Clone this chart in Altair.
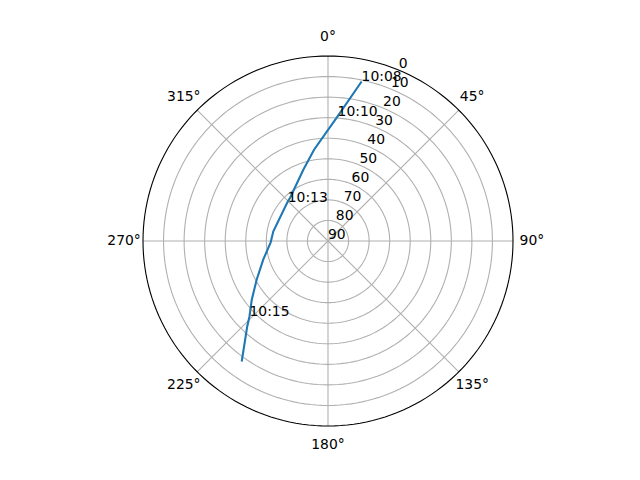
import altair as alt
import pandas as pd

# Satellite pass (azimuth degrees, elevation degrees)
AZ = [11.9, 4.4, 351.3, 340.9, 318.5, 314.4, 280.0, 268.7, 253.9, 241.5, 232.4, 226.2, 223.4, 215.6]
EL = [10.7, 29.2, 45.1, 53.3, 62.1, 62.6, 63.0, 62.1, 57.2, 50.5, 43.2, 37.1, 32.8, 17.9]

TIME_LABELS = ["10:08", "10:10", "10:13", "10:15"]
TIME_AZ = [11.9, 4.4, 314.4, 226.2]
TIME_EL = [10.7, 29.2, 62.6, 37.1]

GRID_EL = [10, 20, 30, 40, 50, 60, 70, 80]
SPINE_EL = [0]
SPOKES = [0, 45, 90, 135, 180, 225, 270, 315]
ANGLE_TEXT = ["0°", "45°", "90°", "135°", "180°", "225°", "270°", "315°"]
RTICKS = [0, 10, 20, 30, 40, 50, 60, 70, 80, 90]
RLABEL_AZ = 22.5
ANGLE_LABEL_R = 99.2
THETA = list(range(0, 361, 2))

FONT = "DejaVu Sans"
FS = 13.9

sx = alt.Scale(domain=[-90, 90], nice=False, zero=False)
sy = alt.Scale(domain=[-90, 90], nice=False, zero=False)


def polar(ch, az="az", r="r", out=("x", "y")):
    return ch.transform_calculate(
        **{out[0]: f"datum.{r} * sin(datum.{az} * PI / 180)",
           out[1]: f"datum.{r} * cos(datum.{az} * PI / 180)"}
    )


def xy(xf="x", yf="y"):
    return dict(x=alt.X(f"{xf}:Q", scale=sx, axis=None),
                y=alt.Y(f"{yf}:Q", scale=sy, axis=None))


def rings_df(els):
    return pd.DataFrame([{"el": e, "az": t} for e in els for t in THETA])


grid = polar(
    alt.Chart(rings_df(GRID_EL)).transform_calculate(r="90 - datum.el")
).mark_line(color="#b0b0b0", strokeWidth=1.1).encode(
    **xy(), detail="el:N", order="az:Q"
)

spokes = polar(
    alt.Chart(pd.DataFrame({"az": SPOKES})).transform_calculate(r="90", r0="0"),
    out=("x2", "y2"),
).transform_calculate(x1="0", y1="0").mark_rule(color="#b0b0b0", strokeWidth=1.1).encode(
    x=alt.X("x1:Q", scale=sx, axis=None),
    y=alt.Y("y1:Q", scale=sy, axis=None),
    x2="x2:Q",
    y2="y2:Q",
)

spine = polar(
    alt.Chart(rings_df(SPINE_EL)).transform_calculate(r="90 - datum.el")
).mark_line(color="black", strokeWidth=1.1).encode(
    **xy(), detail="el:N", order="az:Q"
)

track_df = pd.DataFrame({"az": AZ, "el": EL, "i": list(range(len(AZ)))})
track = polar(
    alt.Chart(track_df).transform_calculate(r="90 - datum.el")
).mark_line(color="#1f77b4", strokeWidth=2.1).encode(
    **xy(), order="i:Q"
)

rl_df = pd.DataFrame({"el": RTICKS, "az": [RLABEL_AZ] * len(RTICKS)})
rlabels = polar(
    alt.Chart(rl_df).transform_calculate(r="90 - datum.el")
).mark_text(font=FONT, fontSize=FS, align="left", baseline="alphabetic",
            dx=0, dy=-2, color="black").encode(**xy(), text="el:Q")

al_df = pd.DataFrame({"az": SPOKES, "t": ANGLE_TEXT})
alabels = polar(
    alt.Chart(al_df).transform_calculate(r=str(ANGLE_LABEL_R))
).mark_text(font=FONT, fontSize=FS, align="center", baseline="middle",
            color="black").encode(**xy(), text="t:N")

tl_df = pd.DataFrame({"az": TIME_AZ, "el": TIME_EL, "t": TIME_LABELS})
tlabels = polar(
    alt.Chart(tl_df).transform_calculate(r="90 - datum.el")
).mark_text(font=FONT, fontSize=FS, align="left", baseline="alphabetic",
            color="black").encode(**xy(), text="t:N")

chart = alt.layer(grid, spokes, spine, track, rlabels, alabels, tlabels).properties(
    width=370,
    height=370,
    autosize=alt.AutoSizeParams(type="none"),
    padding={"left": 135, "top": 48, "right": 100, "bottom": 40},
    background="white",
).configure_view(stroke=None)

chart.save("out.html", embed_options={"renderer": "svg", "actions": False})
